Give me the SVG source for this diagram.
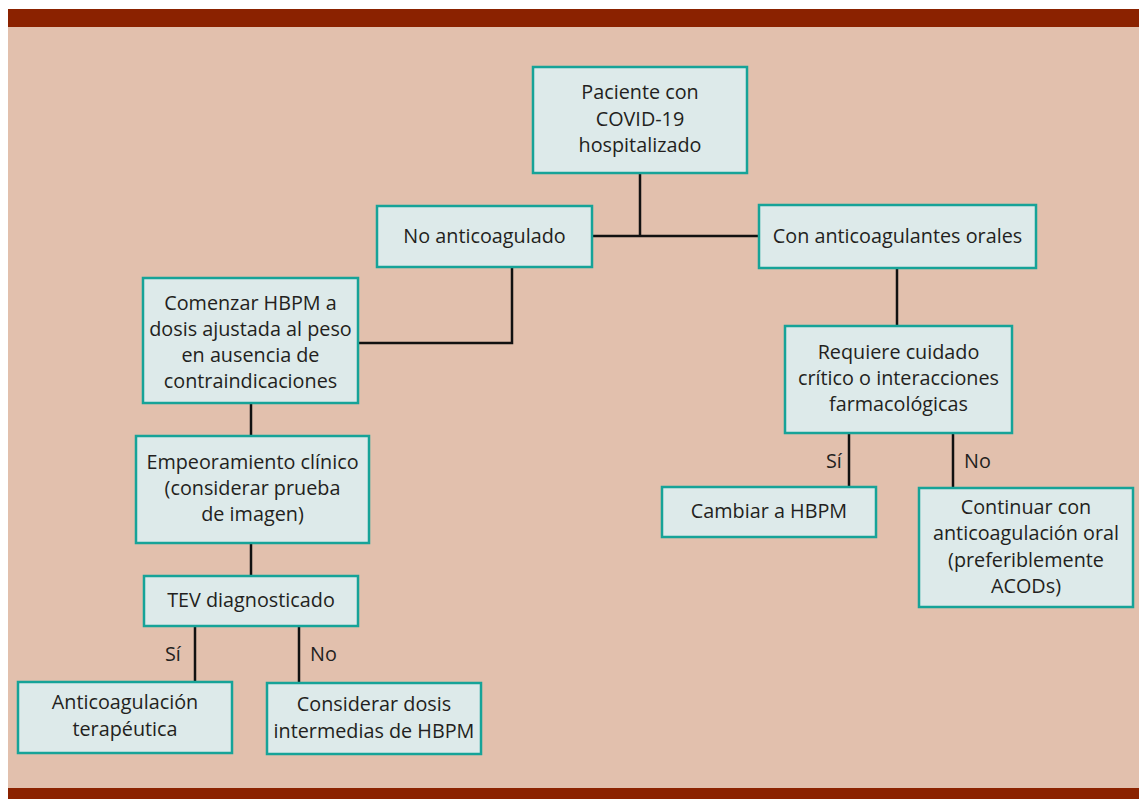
<svg xmlns="http://www.w3.org/2000/svg" width="1139" height="799" viewBox="0 0 1139 799">
  <style>
    .box { fill: #ddeaea; stroke: #16a398; stroke-width: 2.5; }
    .lbl { font-family: "Open Sans", "Noto Sans", sans-serif; font-size: 19.8px; fill: #231f20; text-anchor: middle; }
    .side { font-family: "Open Sans", "Noto Sans", sans-serif; font-size: 19.8px; fill: #231f20; }
    .conn { stroke: #111; stroke-width: 2.5; fill: none; }
  </style>
  <rect x="0" y="0" width="1139" height="799" fill="#ffffff"/>
  <rect x="8" y="9" width="1131" height="790" fill="#e2c0ad"/>
  <rect x="8" y="9" width="1131" height="18" fill="#8b2200"/>
  <rect x="8" y="788" width="1131" height="11" fill="#8b2200"/>

  <g id="connectors">
    <path class="conn" d="M640 173 V236"/>
    <path class="conn" d="M592 236 H759"/>
    <path class="conn" d="M512 267 V343 H358"/>
    <path class="conn" d="M251 403 V436"/>
    <path class="conn" d="M251 543 V576"/>
    <path class="conn" d="M195 626 V682"/>
    <path class="conn" d="M299 626 V683"/>
    <path class="conn" d="M897 268 V326"/>
    <path class="conn" d="M849 433 V487"/>
    <path class="conn" d="M953 433 V488"/>
    <text class="side" x="165" y="661">Sí</text>
    <text class="side" x="310" y="661">No</text>
    <text class="side" x="826" y="468">Sí</text>
    <text class="side" x="964" y="468">No</text>
  </g>

  <g id="n-paciente">
    <rect class="box" x="533" y="67" width="214" height="106"/>
    <text class="lbl" x="640" y="99">Paciente con</text>
    <text class="lbl" x="640" y="126">COVID-19</text>
    <text class="lbl" x="640" y="152">hospitalizado</text>
  </g>
  <g id="n-no-anticoagulado">
    <rect class="box" x="377" y="206" width="215" height="61"/>
    <text class="lbl" x="484.5" y="243">No anticoagulado</text>
  </g>
  <g id="n-con-anticoagulantes">
    <rect class="box" x="759" y="205" width="277" height="63"/>
    <text class="lbl" x="897.5" y="243">Con anticoagulantes orales</text>
  </g>
  <g id="n-comenzar">
    <rect class="box" x="143" y="278" width="215" height="125"/>
    <text class="lbl" x="250.5" y="310">Comenzar HBPM a</text>
    <text class="lbl" x="250.5" y="336">dosis ajustada al peso</text>
    <text class="lbl" x="250.5" y="362">en ausencia de</text>
    <text class="lbl" x="250.5" y="388">contraindicaciones</text>
  </g>
  <g id="n-empeoramiento">
    <rect class="box" x="136" y="436" width="233" height="107"/>
    <text class="lbl" x="252.5" y="469">Empeoramiento clínico</text>
    <text class="lbl" x="252.5" y="495">(considerar prueba</text>
    <text class="lbl" x="252.5" y="521">de imagen)</text>
  </g>
  <g id="n-tev">
    <rect class="box" x="144" y="576" width="214" height="50"/>
    <text class="lbl" x="251" y="607">TEV diagnosticado</text>
  </g>
  <g id="n-anticoagulacion">
    <rect class="box" x="18" y="682" width="214" height="71"/>
    <text class="lbl" x="125" y="709">Anticoagulación</text>
    <text class="lbl" x="125" y="736">terapéutica</text>
  </g>
  <g id="n-considerar">
    <rect class="box" x="267" y="683" width="214" height="71"/>
    <text class="lbl" x="374" y="711">Considerar dosis</text>
    <text class="lbl" x="374" y="738">intermedias de HBPM</text>
  </g>
  <g id="n-requiere">
    <rect class="box" x="785" y="326" width="227" height="107"/>
    <text class="lbl" x="898.5" y="359">Requiere cuidado</text>
    <text class="lbl" x="898.5" y="385">crítico o interacciones</text>
    <text class="lbl" x="898.5" y="411">farmacológicas</text>
  </g>
  <g id="n-cambiar">
    <rect class="box" x="662" y="487" width="214" height="50"/>
    <text class="lbl" x="769" y="518">Cambiar a HBPM</text>
  </g>
  <g id="n-continuar">
    <rect class="box" x="919" y="488" width="214" height="119"/>
    <text class="lbl" x="1026" y="514">Continuar con</text>
    <text class="lbl" x="1026" y="540">anticoagulación oral</text>
    <text class="lbl" x="1026" y="567">(preferiblemente</text>
    <text class="lbl" x="1026" y="593">ACODs)</text>
  </g>
</svg>
